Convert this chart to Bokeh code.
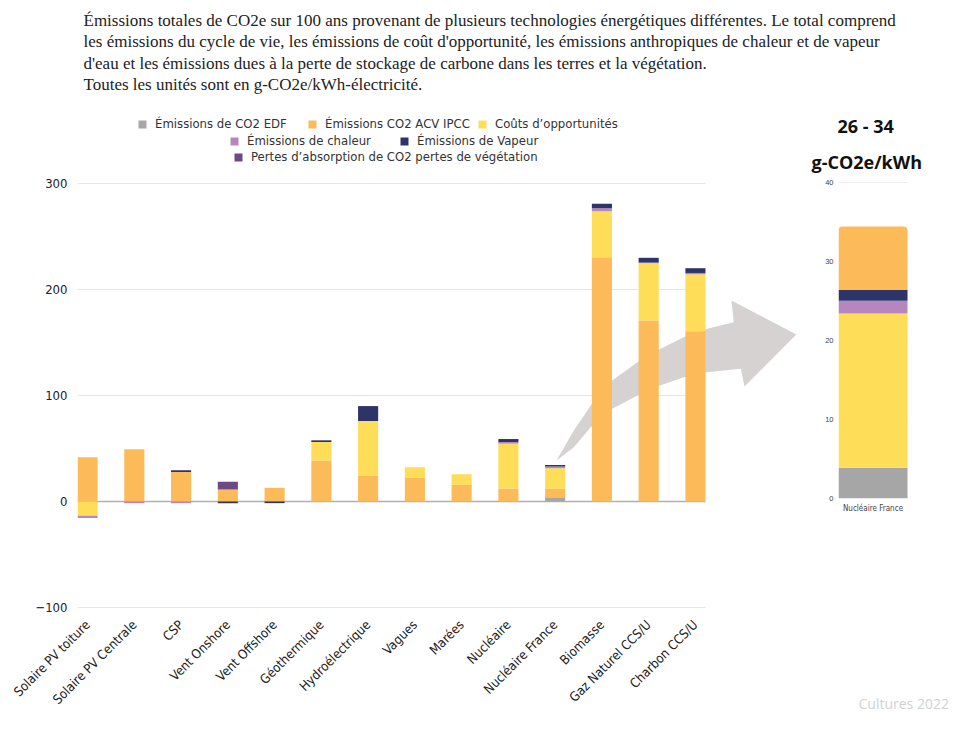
import math
from bokeh.plotting import figure
from bokeh.layouts import column, row
from bokeh.models import (Range1d, FixedTicker, Legend, LegendItem, PolyAnnotation, BoxAnnotation,
                          Span, ColumnDataSource, Title)
from bokeh.core.properties import value
from bokeh.embed import file_html
from bokeh.resources import INLINE

# ---------------- data ----------------
categories = ["Solaire PV toiture", "Solaire PV Centrale", "CSP", "Vent Onshore", "Vent Offshore",
              "Géothermique", "Hydroélectrique", "Vagues", "Marées", "Nucléaire",
              "Nucléaire France", "Biomasse", "Gaz Naturel CCS/U", "Charbon CCS/U"]
edf        = [0, 0, 0, 0, 0, 0, 0, 0, 0, 0, 3.9, 0, 0, 0]
acv_ipcc   = [41.7, 49.2, 27.9, 11.3, 12.9, 38.6, 24.1, 22.6, 15.7, 12.2, 8.0, 230.5, 170.8, 160.7]
opportun   = [-13.5, 0, 0, 0, 0, 17.5, 51.8, 9.7, 10.0, 42.3, 19.5, 43.4, 54.0, 53.7]
chaleur    = [-2.2, -1.8, -1.8, 0, 0, 0, 0, 0, 0, 1.6, 1.6, 2.8, 0.6, 1.2]
vapeur     = [0, 0, 1.5, -1.6, -1.6, 1.6, 14.1, 0, 0, 2.8, 1.4, 4.1, 4.5, 4.5]
vegetation = [0, 0, 0, 7.2, 0, 0, 0, 0, 0, 0, 0, 0, 0, 0]

series_labels = ["Émissions de CO2 EDF", "Émissions CO2 ACV IPCC", "Coûts d’opportunités",
                 "Émissions de chaleur", "Émissions de Vapeur",
                 "Pertes d’absorption de CO2 pertes de végétation"]
series_colors = ["#a6a6a6", "#fdba58", "#fedd58", "#b886be", "#2d3468", "#6d4a85"]
y_ticks = [-100, 0, 100, 200, 300]

inset_category = ["Nucléaire France"]
inset_ticks = [0, 10, 20, 30, 40]
inset_title_lines = ["26 - 34", "g-CO2e/kWh"]

title_lines = ["Émissions totales de CO2e sur 100 ans provenant de plusieurs technologies énergétiques différentes. Le total comprend",
               "les émissions du cycle de vie, les émissions de coût d'opportunité, les émissions anthropiques de chaleur et de vapeur",
               "d'eau et les émissions dues à la perte de stockage de carbone dans les terres et la végétation.",
               "Toutes les unités sont en g-CO2e/kWh-électricité."]
footer_text = "Cultures 2022"

LABEL_FONT = "'Liberation Sans Narrow', 'DejaVu Sans Condensed', Roboto, sans-serif"

# ---------------- title figure ----------------
tf = figure(width=980, height=108, x_range=Range1d(0, 980), y_range=Range1d(108, 0),
            output_backend="svg", toolbar_location=None, min_border=0)
tf.axis.visible = False
tf.grid.visible = False
tf.outline_line_color = None
tf.text(x=[83] * len(title_lines), y=[20 + 21.4 * i for i in range(len(title_lines))],
        text=title_lines, text_font=value("Liberation Serif"),
        text_font_size="17px", text_baseline="middle", text_color="#222222")

# ---------------- main figure ----------------
series = [edf, acv_ipcc, opportun, chaleur, vapeur, vegetation]
n = len(categories)
data = {"x": list(range(n))}
pos_keys, neg_keys = [], []
for i, s in enumerate(series):
    data[f"p{i}"] = [v if v > 0 else 0 for v in s]
    data[f"n{i}"] = [v if v < 0 else 0 for v in s]
    pos_keys.append(f"p{i}")
    neg_keys.append(f"n{i}")
src = ColumnDataSource(data)

x_end_bars = n - 1 + 0.215
p = figure(width=808, height=627, x_range=Range1d(-0.215, 15.418),
           y_range=Range1d(-101, 368.9), output_backend="svg", toolbar_location=None,
           min_border_left=77, min_border_right=0, min_border_top=2, min_border_bottom=127)
p.outline_line_color = None
p.xgrid.visible = False
p.ygrid.ticker = FixedTicker(ticks=y_ticks)
p.ygrid.grid_line_color = "#e6e6e6"

p.yaxis.ticker = FixedTicker(ticks=y_ticks)
p.yaxis.axis_line_color = None
p.yaxis.major_tick_line_color = None
p.yaxis.major_tick_out = 0
p.yaxis.minor_tick_line_color = None
p.yaxis.major_label_text_font = LABEL_FONT
p.yaxis.major_label_text_font_size = "13px"
p.yaxis.major_label_text_color = "#222222"
p.yaxis.major_label_standoff = 10

p.xaxis.ticker = FixedTicker(ticks=list(range(n)))
p.xaxis.major_label_overrides = {i: c for i, c in enumerate(categories)}
p.xaxis.major_label_orientation = math.pi / 4
p.xaxis.axis_line_color = None
p.xaxis.major_tick_line_color = None
p.xaxis.major_tick_out = 0
p.xaxis.minor_tick_line_color = None
p.xaxis.major_label_text_font = LABEL_FONT
p.xaxis.major_label_text_font_size = "13px"
p.xaxis.major_label_text_color = "#222222"
p.xaxis.major_label_standoff = 14

zero = Span(location=0, dimension="width", line_color="#b0b0b0", line_width=1.5, level="underlay")
p.add_layout(zero)
# blank area right of the bars (grid stops at the last bar)
p.add_layout(BoxAnnotation(left=x_end_bars, fill_color="white", fill_alpha=1.0,
                           line_alpha=0, level="underlay"))

# decorative curved arrow (behind the bars)
arrow_x = [10.03, 10.40, 10.76, 11.22, 11.76, 12.18, 12.75, 13.25, 13.82,
           13.77, 15.16, 14.05,
           13.97, 13.25, 12.75, 12.18, 11.76, 11.22, 10.76, 10.40]
arrow_y = [38.7, 67.0, 90.6, 114.2, 131.4, 142.5, 155.0, 162.9, 169.2,
           189.6, 157.5, 108.5,
           125.2, 122.0, 117.3, 108.5, 100.0, 87.5, 70.1, 51.2]
p.add_layout(PolyAnnotation(xs=arrow_x, ys=arrow_y, xs_units="data", ys_units="data",
                            fill_color="#d5d2d1", fill_alpha=1.0, line_alpha=0, level="underlay"))

pos_r = p.vbar_stack(pos_keys, x="x", width=0.43, color=series_colors, source=src, line_width=0)
neg_r = p.vbar_stack(neg_keys, x="x", width=0.43, color=series_colors, source=src, line_width=0)

groups = [[0, 1, 2], [3, 4], [5]]
legend_loc = [(60, 477), (152, 460), (156, 444)]
for g, loc in zip(groups, legend_loc):
    lg = Legend(items=[LegendItem(label=series_labels[i], renderers=[pos_r[i]]) for i in g],
                orientation="horizontal", location=loc,
                label_text_font=LABEL_FONT, label_text_font_size="13px",
                label_text_color="#333333", glyph_width=10, glyph_height=10,
                label_standoff=8, spacing=0, padding=0, margin=0, label_width=152,
                border_line_alpha=0, background_fill_alpha=0, label_height=14)
    p.add_layout(lg)

# ---------------- inset figure ----------------
k = categories.index("Nucléaire France")
isrc = ColumnDataSource({"x": [0], "edf": [edf[k]], "opp": [opportun[k]],
                         "cha": [chaleur[k]], "vap": [vapeur[k]], "acv": [acv_ipcc[k]]})
inset = figure(width=172, height=517, x_range=Range1d(-0.5, 1.34), y_range=Range1d(0, 40.1),
               output_backend="svg", toolbar_location=None,
               min_border_left=30, min_border_right=15, min_border_top=73, min_border_bottom=127)
inset.outline_line_color = None
inset.xgrid.visible = False
inset.ygrid.ticker = FixedTicker(ticks=inset_ticks)
inset.ygrid.grid_line_color = "#eeeeee"
inset.yaxis.ticker = FixedTicker(ticks=inset_ticks)
inset.yaxis.axis_line_color = None
inset.yaxis.major_tick_line_color = None
inset.yaxis.major_tick_out = 0
inset.yaxis.minor_tick_line_color = None
inset.yaxis.major_label_text_font_size = "7.5px"
inset.yaxis.major_label_text_color = "#444444"
inset.yaxis.major_label_standoff = 5
inset.xaxis.ticker = FixedTicker(ticks=[0])
inset.xaxis.major_label_overrides = {0: inset_category[0]}
inset.xaxis.axis_line_color = None
inset.xaxis.major_tick_line_color = None
inset.xaxis.major_tick_out = 0
inset.xaxis.minor_tick_line_color = None
inset.xaxis.major_label_text_font = LABEL_FONT
inset.xaxis.major_label_text_font_size = "8px"
inset.xaxis.major_label_text_color = "#444444"
inset.xaxis.major_label_standoff = 5
inset.add_layout(BoxAnnotation(left=0.5, fill_color="white", fill_alpha=1.0,
                               line_alpha=0, level="underlay"))

inset_keys = ["edf", "opp", "cha", "vap", "acv"]
inset_colors = [series_colors[0], series_colors[2], series_colors[3], series_colors[4], series_colors[1]]
ir = inset.vbar_stack(inset_keys, x="x", width=1.0, color=inset_colors, source=isrc, line_width=0)
try:
    ir[-1].glyph.border_radius = (4, 4, 0, 0)
except Exception:
    pass

# two-line heading above the inset (first added = closest to the frame)
for txt, so, off in [(inset_title_lines[1], 16, -27), (inset_title_lines[0], 3, -1)]:
    inset.add_layout(Title(text=txt, align="left", offset=off, standoff=so,
                           text_font="Open Sans", text_font_style="bold",
                           text_font_size="18px", text_color="#111111"), "above")

# ---------------- footer ----------------
ff = figure(width=172, height=110, x_range=Range1d(0, 127), y_range=Range1d(110, 0),
            output_backend="svg", toolbar_location=None,
            min_border_left=30, min_border_right=15, min_border_top=0, min_border_bottom=0)
ff.axis.visible = False
ff.grid.visible = False
ff.outline_line_color = None
ff.text(x=[20], y=[78], text=[footer_text], text_font=value("Open Sans"),
        text_font_size="14px", text_baseline="middle", text_color="#d2d2d2")

layout = column(tf, row(p, column(inset, ff)))
open("out.html", "w").write(file_html(layout, INLINE))
